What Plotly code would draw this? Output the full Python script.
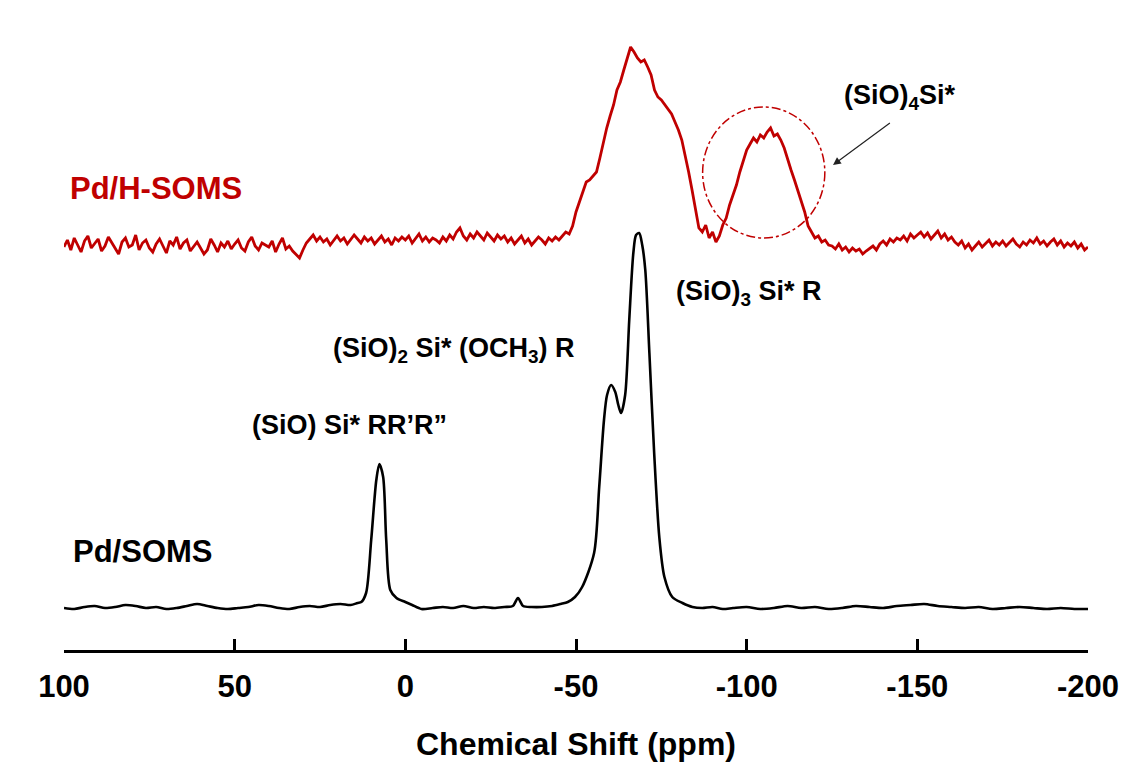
import plotly.graph_objects as go

# ---- Black spectrum: Pd/SOMS (ppm, intensity) ----
black_ppm = [100, 97, 94, 91, 88, 85, 82, 79, 76, 73, 70, 67, 64, 61, 58, 55, 52, 49, 46, 43,
             40, 37, 34, 31, 28, 25, 22, 19, 16, 14, 12.9, 11.5, 10.0, 8.5, 7.6, 6.5, 5.6, 4.4, 2.6, 0,
             -2, -4.7, -8, -11, -14, -17, -20, -23, -26, -29, -31.5, -33, -34.5, -37, -40, -43, -45.5,
             -47.6, -49.7, -51.8, -55.3, -56.8, -58.2, -59.1, -60.3, -61.5, -62.4, -63.2, -64.4,
             -65.6, -66.8, -67.6, -68.5, -69.4, -70.3, -71.5, -72.9, -74.4, -75.9, -78.2, -81.2,
             -84.1, -87, -90, -93, -96, -100, -104, -108, -112, -116, -120, -124, -128, -132, -136,
             -140, -144, -148, -152, -156, -160, -164, -168, -172, -176, -180, -184, -188, -192,
             -196, -200]
black_int = [42, 41, 43, 44, 42, 43, 45, 44, 42, 43, 41, 42, 44, 46, 44, 42, 41, 42, 43, 45,
             44, 42, 41, 43, 44, 43, 45, 46, 45, 47, 48, 57, 110, 170, 186, 173, 110, 60, 52, 48,
             45, 41, 42, 43, 42, 44, 42, 43, 42, 43, 44, 52, 44, 43, 43, 44, 46,
             48, 53, 63, 97, 163, 230, 255, 265, 258, 245, 237, 255,
             330, 397, 415, 417, 405, 380, 297, 197, 113, 73, 53, 47,
             43, 42, 43, 41, 42, 43, 41, 42, 44, 42, 43, 41, 42, 44, 43,
             42, 44, 45, 46, 44, 43, 42, 43, 41, 42, 43, 42, 41, 42,
             41, 41]

# ---- Red spectrum: Pd/H-SOMS, sampled every 1 ppm from 100 to -200 ----
red_int = [
    403, 410, 400, 412, 405, 398, 409, 414, 402, 406,   # 100..91
    411, 399, 404, 413, 407, 401, 396, 408, 412, 403,   # 90..81
    405, 415, 400, 407, 410, 402, 398, 406, 411, 404,   # 80..71
    397, 409, 405, 413, 401, 407, 410, 399, 404, 408,   # 70..61
    402, 396, 400, 411, 405, 398, 407, 403, 409, 401,   # 60..51
    406, 410, 402, 399, 408, 413, 404, 400, 407, 405,   # 50..41
    403, 409, 398, 406, 412, 401, 404, 399, 395, 392,   # 40..31
    400, 407, 411, 415, 409, 413, 408, 411, 405, 410,   # 30..21
    414, 409, 412, 406, 410, 415, 411, 407, 413, 409,   # 20..11
    412, 406, 410, 414, 408, 411, 405, 412, 409, 413,   # 10..1
    410, 414, 407, 411, 416, 409, 413, 408, 412, 410,   # 0..-9
    407, 413, 409, 415, 411, 418, 422, 414, 410, 416,   # -10..-19
    412, 418, 414, 410, 417, 413, 409, 415, 411, 414,   # -20..-29
    408, 412, 406, 410, 414, 407, 411, 405, 409, 413,   # -30..-39
    410, 406, 412, 409, 413, 410, 414, 418, 416, 424,   # -40..-49
    438, 448, 460, 468, 470, 474, 478, 492, 508, 522,   # -50..-59
    534, 545, 560, 568, 580, 592, 603, 598, 592, 588,   # -60..-69
    590, 583, 575, 560, 553, 550, 545, 540, 536, 528,   # -70..-79
    520, 510, 495, 478, 460, 440, 422, 418, 425, 412,   # -80..-89
    418, 408, 414, 425, 432, 445, 455, 465, 478, 490,   # -90..-99
    500, 506, 512, 508, 515, 512, 518, 522, 514, 516,   # -100..-109
    510, 502, 490, 480, 470, 460, 450, 438, 424, 418,   # -110..-119
    412, 414, 408, 410, 405, 404, 401, 406, 400, 403,   # -120..-129
    398, 402, 399, 401, 396, 399, 402, 404, 400, 406,   # -130..-139
    409, 405, 411, 408, 412, 410, 414, 409, 416, 412,   # -140..-149
    415, 418, 413, 417, 411, 415, 419, 412, 416, 410,   # -150..-159
    413, 408, 405, 409, 402, 406, 400, 404, 408, 403,   # -160..-169
    407, 410, 404, 408, 405, 409, 404, 407, 411, 406,   # -170..-179
    403, 408, 405, 410, 407, 412, 406, 409, 404, 408,   # -180..-189
    411, 405, 409, 403, 407, 404, 408, 402, 406, 400,   # -190..-199
    403,                                                 # -200
]
red_ppm = [100 - i for i in range(len(red_int))]

x_ticks = [100, 50, 0, -50, -100, -150, -200]
x_tick_labels = ["100", "50", "0", "-50", "-100", "-150", "-200"]

RED = "#C00000"
FONT = "Arial, Liberation Sans, sans-serif"

fig = go.Figure()
fig.add_trace(go.Scatter(x=red_ppm, y=red_int, mode="lines",
                         line=dict(color=RED, width=2.8), hoverinfo="skip"))
fig.add_trace(go.Scatter(x=black_ppm, y=black_int, mode="lines",
                         line=dict(color="black", width=2.6, shape="spline", smoothing=0.8),
                         hoverinfo="skip"))

# dash-dot circle around (SiO)4Si* peak
fig.add_shape(type="circle", xref="x", yref="y", x0=-87.1, x1=-122.9, y0=412, y1=543,
              line=dict(color=RED, width=1.5, dash="dashdot"))

ann = dict(showarrow=False, xanchor="left", yanchor="middle", xref="x", yref="y")
fig.add_annotation(x=98.9, y=462, text="Pd/H-SOMS",
                   font=dict(family=FONT, size=31, color=RED, weight="bold"), **ann)
fig.add_annotation(x=98.0, y=99, text="Pd/SOMS",
                   font=dict(family=FONT, size=31, color="black", weight="bold"), **ann)
fig.add_annotation(x=-78.6, y=357, text="(SiO)<sub>3</sub> Si* R",
                   font=dict(family=FONT, size=27, color="black", weight="bold"), **ann)
fig.add_annotation(x=21.9, y=300, text="(SiO)<sub>2</sub> Si* (OCH<sub>3</sub>) R",
                   font=dict(family=FONT, size=27, color="black", weight="bold"), **ann)
fig.add_annotation(x=45.4, y=225, text="(SiO) Si* RR\u2019R\u201d",
                   font=dict(family=FONT, size=27, color="black", weight="bold"), **ann)
fig.add_annotation(x=-127.8, y=553, text="(SiO)<sub>4</sub>Si*",
                   font=dict(family=FONT, size=27, color="black", weight="bold"), **ann)
# arrow
fig.add_annotation(x=-125.3, y=485, ax=-142.4, ay=528, axref="x", ayref="y", xref="x", yref="y",
                   text="", showarrow=True, arrowhead=2, arrowsize=1.3, arrowwidth=1.2,
                   arrowcolor="#222222")

fig.update_layout(
    width=1126, height=772,
    margin=dict(l=64, r=38, t=0, b=122),
    paper_bgcolor="white", plot_bgcolor="white",
    showlegend=False,
    xaxis=dict(range=[100, -200], tickvals=x_ticks, ticktext=x_tick_labels,
               showgrid=False, zeroline=False, showline=True, linecolor="black", linewidth=3,
               ticks="inside", ticklen=11, tickwidth=3, tickcolor="black",
               ticklabelstandoff=7,
               tickfont=dict(family=FONT, size=31, color="black", weight="bold"),
               title=dict(text="Chemical Shift (ppm)", standoff=30,
                          font=dict(family=FONT, size=32, color="black", weight="bold"))),
    yaxis=dict(range=[0, 650], visible=False, showgrid=False, zeroline=False),
)

fig.write_html("out.html")
